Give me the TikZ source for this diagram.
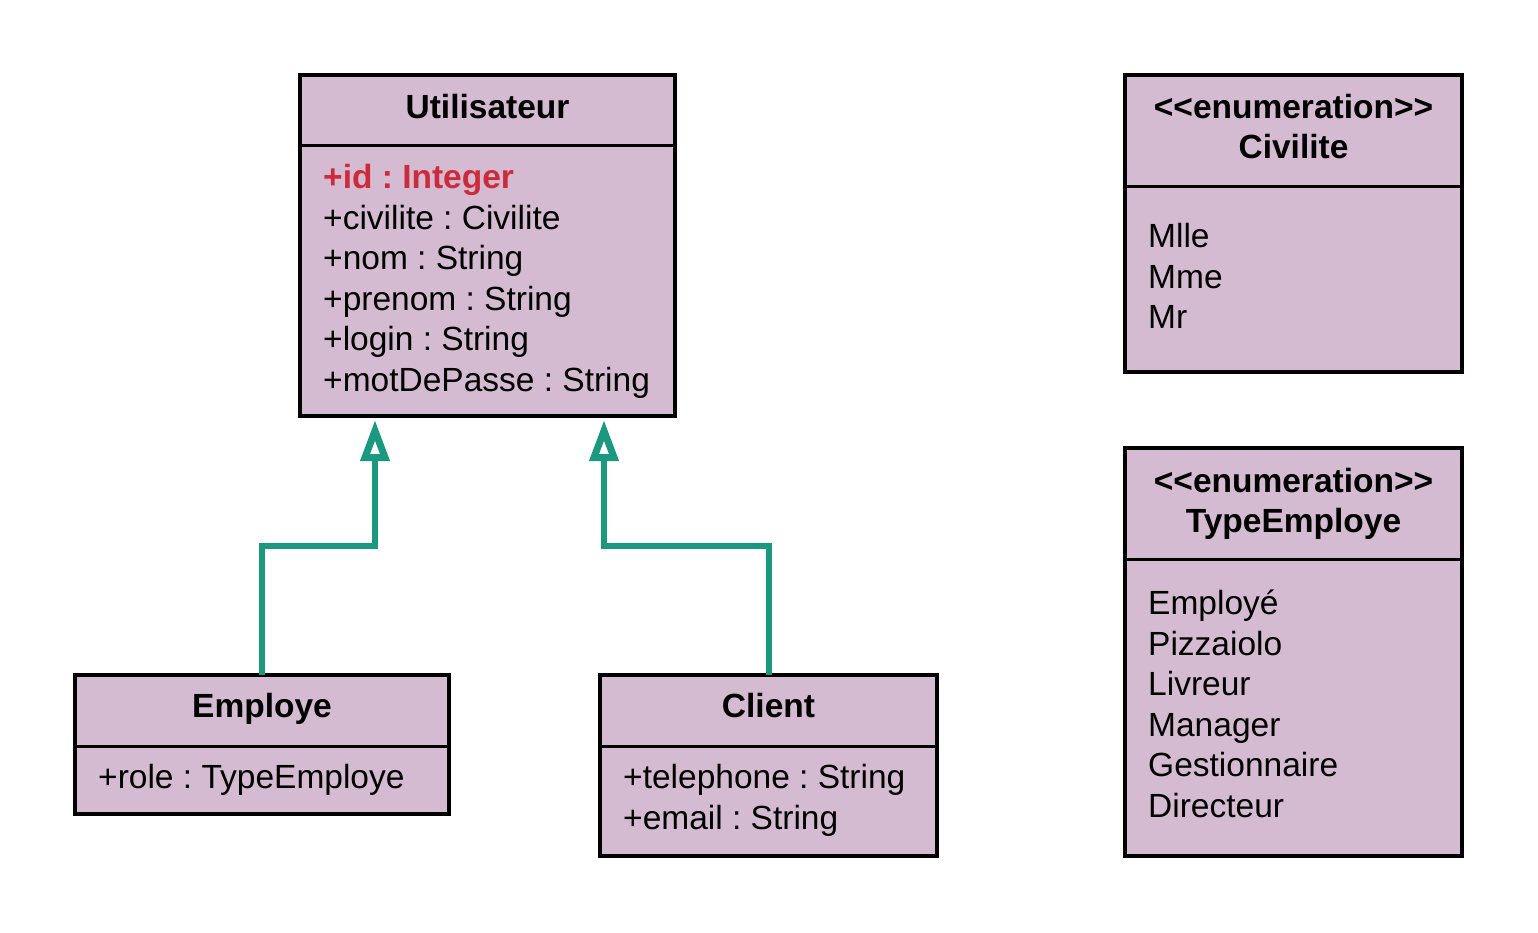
\documentclass[tikz,border=0pt]{standalone}
\usepackage{fontspec}
\setmainfont{Liberation Sans}
\usetikzlibrary{arrows.meta}
\definecolor{umlfill}{HTML}{D4BBD2}
\definecolor{gencol}{HTML}{1A9880}
\definecolor{idred}{HTML}{CC2C3A}
\frenchspacing
\begin{document}
\frenchspacing
\begin{tikzpicture}[x=1pt,y=-1pt,
  umlbox/.style={draw=black, fill=umlfill, line width=3.5pt, rectangle, inner sep=0pt, outer sep=0pt, anchor=north west},
  divline/.style={draw=black, line width=3pt},
  txt/.style={font=\fontsize{33.5}{40.5}\selectfont\frenchspacing, inner sep=0pt, anchor=base west},
  ttl/.style={font=\fontsize{33.5}{40.5}\selectfont\bfseries, inner sep=0pt, anchor=base},
  gen/.style={draw=gencol, line width=6pt, -{Triangle[open, length=41pt, width=28pt, line width=7pt]}}
]
\useasboundingbox (0,0) rectangle (1538,932);

% Utilisateur
\node[umlbox, minimum width=375pt, minimum height=341pt] (ut) at (300,75) {};
\draw[divline] (ut.west |- 0,145) -- (ut.east |- 0,145);
\node[ttl] (utT) at (487.5,118.5) {Utilisateur};
\node[txt, text=idred, font=\fontsize{33.5}{40.5}\selectfont\bfseries\frenchspacing] (ut1) at (323,188.5) {+id : Integer};
\node[txt] (ut2) at (323,229) {+civilite : Civilite};
\node[txt] (ut3) at (323,269.5) {+nom : String};
\node[txt] (ut4) at (323,310) {+prenom : String};
\node[txt] (ut5) at (323,350.5) {+login : String};
\node[txt] (ut6) at (323,391) {+motDePasse : String};

% Employe
\node[umlbox, minimum width=374pt, minimum height=139pt] (emp) at (75,675) {};
\draw[divline] (emp.west |- 0,746) -- (emp.east |- 0,746);
\node[ttl] (empT) at (262,717) {Employe};
\node[txt] (emp1) at (98,788.5) {+role : TypeEmploye};

% Client
\node[umlbox, minimum width=337pt, minimum height=181pt] (cli) at (600,675) {};
\draw[divline] (cli.west |- 0,746) -- (cli.east |- 0,746);
\node[ttl] (cliT) at (768.5,717) {Client};
\node[txt] (cli1) at (623,788.5) {+telephone : String};
\node[txt] (cli2) at (623,829) {+email : String};

% Civilite
\node[umlbox, minimum width=337pt, minimum height=297pt] (civ) at (1125,75) {};
\draw[divline] (civ.west |- 0,186) -- (civ.east |- 0,186);
\node[ttl] (civT1) at (1293.5,118) {<{}<enumeration>{}>};
\node[ttl] (civT2) at (1293.5,158.5) {Civilite};
\node[txt] (civ1) at (1148,247.5) {Mlle};
\node[txt] (civ2) at (1148,288) {Mme};
\node[txt] (civ3) at (1148,328.5) {Mr};

% TypeEmploye
\node[umlbox, minimum width=337pt, minimum height=408pt] (typ) at (1125,448) {};
\draw[divline] (typ.west |- 0,559) -- (typ.east |- 0,559);
\node[ttl] (typT1) at (1293.5,492) {<{}<enumeration>{}>};
\node[ttl] (typT2) at (1293.5,532.5) {TypeEmploye};
\node[txt] (typ1) at (1148,614.5) {Employé};
\node[txt] (typ2) at (1148,655) {Pizzaiolo};
\node[txt] (typ3) at (1148,695.5) {Livreur};
\node[txt] (typ4) at (1148,736) {Manager};
\node[txt] (typ5) at (1148,776.5) {Gestionnaire};
\node[txt] (typ6) at (1148,817) {Directeur};

% Generalizations
\coordinate (uA) at (375,420);
\coordinate (uB) at (604,420);
\draw[gen] (emp.north) |- (375,546) -- (uA);
\draw[gen] (cli.north) |- (604,546) -- (uB);
\end{tikzpicture}
\end{document}
